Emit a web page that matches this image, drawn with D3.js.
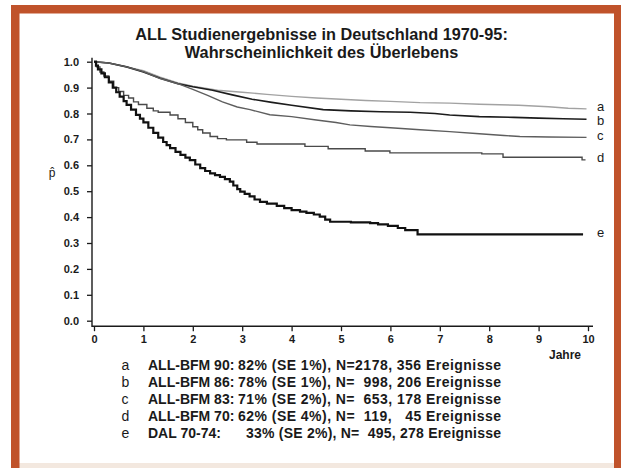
<!DOCTYPE html>
<html>
<head>
<meta charset="utf-8">
<script src="https://cdn.jsdelivr.net/npm/d3@7"></script>
<style>
  body { margin: 0; background: #fff; }
  svg { display: block; font-family: "Liberation Sans", Arial, sans-serif; }
  .mono { white-space: pre; }
</style>
</head>
<body>
<svg id="drawing_region"></svg>
<script>
// survival estimates: [years, p]
const survA = [[0,1],[0.3,0.995],[0.66,0.98],[1.0,0.965],[1.34,0.94],[1.7,0.918],[2.0,0.905],[2.5,0.89],
  [3.0,0.882],[3.5,0.874],[4.0,0.866],[4.5,0.86],[5.0,0.855],[5.5,0.85],[6.0,0.847],[6.6,0.842],[7.2,0.84],
  [7.8,0.836],[8.6,0.832],[9.2,0.826],[9.6,0.82],[9.97,0.818]];
const survB = [[0,1],[0.3,0.995],[0.66,0.98],[1.0,0.96],[1.34,0.936],[1.7,0.915],[2.0,0.903],[2.4,0.89],
  [2.8,0.872],[3.2,0.855],[3.6,0.843],[4.0,0.832],[4.64,0.815],[5.2,0.81],[5.8,0.807],[6.4,0.805],[6.9,0.8],
  [7.2,0.794],[7.8,0.788],[8.5,0.785],[9.0,0.782],[9.5,0.78],[9.97,0.778]];
const survC = [[0,1],[0.3,0.995],[0.66,0.98],[1.0,0.962],[1.34,0.935],[1.7,0.915],[2.0,0.893],[2.3,0.87],
  [2.6,0.845],[2.9,0.825],[3.16,0.815],[3.56,0.795],[4.0,0.788],[4.5,0.775],[4.9,0.765],[5.18,0.756],
  [5.6,0.75],[6.0,0.745],[6.6,0.737],[7.2,0.73],[7.8,0.722],[8.3,0.715],[8.62,0.711],[9.2,0.709],[9.97,0.708]];
const survD = [[0,1],[0.05,0.98],[0.12,0.96],[0.2,0.945],[0.3,0.925],[0.4,0.9],[0.5,0.885],[0.6,0.87],
  [0.7,0.86],[0.8,0.845],[0.9,0.835],[1.07,0.82],[1.2,0.81],[1.3,0.805],[1.54,0.794],[1.7,0.78],[1.85,0.765],
  [2.0,0.749],[2.1,0.737],[2.2,0.725],[2.35,0.711],[2.5,0.703],[2.68,0.698],[3.09,0.689],[3.3,0.682],
  [4.27,0.673],[4.74,0.664],[5.49,0.655],[5.99,0.648],[7.85,0.644],[8.28,0.631],[9.88,0.621],[9.95,0.621]];
const survE = [[0,1],[0.04,0.985],[0.08,0.97],[0.15,0.955],[0.22,0.94],[0.3,0.92],[0.38,0.9],[0.45,0.882],
  [0.52,0.865],[0.6,0.848],[0.66,0.833],[0.75,0.815],[0.85,0.795],[0.93,0.78],[1.0,0.766],[1.1,0.745],
  [1.2,0.725],[1.3,0.707],[1.4,0.69],[1.47,0.678],[1.54,0.666],[1.65,0.652],[1.75,0.64],[1.85,0.63],
  [1.94,0.62],[2.05,0.603],[2.15,0.589],[2.25,0.578],[2.35,0.569],[2.45,0.562],[2.55,0.555],[2.65,0.547],
  [2.75,0.537],[2.82,0.522],[2.9,0.508],[2.96,0.498],[3.05,0.49],[3.15,0.48],[3.25,0.468],[3.36,0.459],
  [3.5,0.452],[3.7,0.443],[3.85,0.435],[4.0,0.427],[4.17,0.421],[4.3,0.416],[4.45,0.41],[4.57,0.402],
  [4.68,0.39],[4.78,0.382],[5.2,0.38],[5.59,0.377],[5.75,0.372],[5.95,0.366],[6.15,0.358],[6.3,0.35],
  [6.55,0.333],[9.9,0.333]];

const curveKeys = ['a', 'b', 'c', 'd', 'e'];
const studyNames = ['ALL-BFM 90:', 'ALL-BFM 86:', 'ALL-BFM 83:', 'ALL-BFM 70:', 'DAL 70-74:'];
const studyResults = [
  '82% (SE 1%), N=2178, 356 Ereignisse',
  '78% (SE 1%), N=  998, 206 Ereignisse',
  '71% (SE 2%), N=  653, 178 Ereignisse',
  '62% (SE 4%), N=  119,   45 Ereignisse',
  '33% (SE 2%), N=  495, 278 Ereignisse'
];
const xTicks = [0, 1, 2, 3, 4, 5, 6, 7, 8, 9, 10];
const yTicks = [0, 0.1, 0.2, 0.3, 0.4, 0.5, 0.6, 0.7, 0.8, 0.9, 1.0];
const titleLines = ['ALL Studienergebnisse in Deutschland 1970-95:', 'Wahrscheinlichkeit des Überlebens'];

const config = {
  parent: '#drawing_region',
  width: 621,
  height: 468,
  plot: {left: 94, right: 588, top: 61.7, bottom: 320.7},
  legend: {key: 121.5, name: 148, result: 238, resultShifted: 246, right: 501, top: 369.5, step: 17, size: 14}
};

const curves = [
  {data: survA, color: '#a2a2a2', width: 1.4, step: false},
  {data: survB, color: '#1c1c1c', width: 1.6, step: false},
  {data: survC, color: '#5e5e5e', width: 1.4, step: false},
  {data: survD, color: '#4a4a4a', width: 1.4, step: true},
  {data: survE, color: '#111111', width: 2.2, step: true}
];

class SurvivalPlot {

  constructor(config, curves) {
    this.config = config;
    this.curves = curves;
    this.init();
  }

  init() {
    let self = this;
    const p = self.config.plot;

    self.svg = d3.select(self.config.parent)
        .attr('width', self.config.width)
        .attr('height', self.config.height);

    // orange frame, cut off at the bottom
    self.svg.append('rect').attr('x', 11).attr('y', 5).attr('width', 610).attr('height', 463).attr('fill', '#c0532b');
    self.svg.append('rect').attr('x', 19.5).attr('y', 13.5).attr('width', 594.5).attr('height', 449.5).attr('fill', '#fff');
    self.svg.append('rect').attr('x', 19.5).attr('y', 463).attr('width', 594.5).attr('height', 5).attr('fill', '#f3e8df');

    self.xscale = d3.scaleLinear().domain([0, 10]).range([p.left, p.right]);
    self.yscale = d3.scaleLinear().domain([0, 1]).range([p.bottom, p.top]);

    self.xaxis = d3.axisBottom(self.xscale)
        .tickValues(xTicks)
        .tickFormat(d3.format('d'))
        .tickSizeOuter(0)
        .tickSize(5)
        .tickPadding(4);
    self.yaxis = d3.axisLeft(self.yscale)
        .tickValues(yTicks)
        .tickFormat(d3.format('.1f'))
        .tickSizeOuter(0)
        .tickSize(5)
        .tickPadding(8);

    self.axisX = p.left - 2;
    self.axisY = p.bottom + 5.5;
  }

  render() {
    let self = this;
    const ink = '#1a1a1a';
    const lg = self.config.legend;

    // title
    self.svg.selectAll('.title')
        .data(titleLines)
        .enter()
        .append('text')
        .attr('class', 'title')
        .attr('x', 321.6)
        .attr('y', (d, i) => 40 + i * 18.3)
        .attr('text-anchor', 'middle')
        .attr('font-size', '16.3px')
        .attr('font-weight', 'bold')
        .attr('fill', ink)
        .text(d => d);

    // axes
    const gy = self.svg.append('g')
        .attr('transform', `translate(${self.axisX},0)`)
        .call(self.yaxis);
    const gx = self.svg.append('g')
        .attr('transform', `translate(0,${self.axisY})`)
        .call(self.xaxis);
    [gx, gy].forEach(g => {
      g.select('.domain').remove();
      g.selectAll('line').attr('stroke', ink).attr('stroke-width', 1.3);
      g.selectAll('text').attr('fill', ink).attr('font-size', '11px').attr('font-weight', 'bold')
          .attr('font-family', '"Liberation Sans", Arial, sans-serif');
    });
    self.svg.append('path')
        .attr('d', `M${self.axisX},${self.yscale(1) - 4}V${self.axisY}H${self.xscale(10) + 5}`)
        .attr('fill', 'none')
        .attr('stroke', ink)
        .attr('stroke-width', 1.4);

    self.svg.append('text')
        .attr('x', 52).attr('y', 177)
        .attr('text-anchor', 'middle')
        .attr('font-size', '12px')
        .attr('fill', ink)
        .text('p\u0302');
    self.svg.append('text')
        .attr('x', 549).attr('y', 359)
        .attr('font-size', '12px')
        .attr('font-weight', 'bold')
        .attr('fill', ink)
        .text('Jahre');

    // survival curves
    self.svg.selectAll('.curve')
        .data(self.curves)
        .enter()
        .append('path')
        .attr('class', 'curve')
        .attr('fill', 'none')
        .attr('stroke', d => d.color)
        .attr('stroke-width', d => d.width)
        .attr('stroke-linejoin', 'miter')
        .attr('d', d => d3.line()
            .x(v => self.xscale(v[0]))
            .y(v => self.yscale(v[1]))
            .curve(d.step ? d3.curveStepAfter : d3.curveLinear)(d.data));

    // end labels, pushed apart when they collide
    let labelY = self.curves.map(d => self.yscale(d.data[d.data.length - 1][1]) + 2.5);
    for (let i = 1; i < labelY.length; i++) {
      if (labelY[i] - labelY[i - 1] < 14) labelY[i] = labelY[i - 1] + 14;
    }
    self.svg.selectAll('.endlabel')
        .data(curveKeys)
        .enter()
        .append('text')
        .attr('class', 'endlabel')
        .attr('x', 597)
        .attr('y', (d, i) => labelY[i])
        .attr('font-size', '13px')
        .attr('fill', ink)
        .text(d => d);

    // legend below the axis
    const rows = self.svg.selectAll('.legend')
        .data(curveKeys)
        .enter()
        .append('g')
        .attr('class', 'legend')
        .attr('transform', (d, i) => `translate(0,${lg.top + i * lg.step})`)
        .attr('font-size', lg.size + 'px')
        .attr('fill', ink);
    rows.append('text')
        .attr('x', lg.key)
        .text(d => d);
    rows.append('text')
        .attr('x', lg.name)
        .attr('font-weight', 'bold')
        .text((d, i) => studyNames[i]);
    const resultX = i => i === 4 ? lg.resultShifted : lg.result;
    rows.append('text')
        .attr('class', 'mono')
        .attr('x', (d, i) => resultX(i))
        .attr('textLength', (d, i) => lg.right - resultX(i))
        .attr('lengthAdjust', 'spacing')
        .attr('font-weight', 'bold')
        .text((d, i) => studyResults[i]);
  }
}

const plot = new SurvivalPlot(config, curves);
plot.render();
</script>
</body>
</html>
